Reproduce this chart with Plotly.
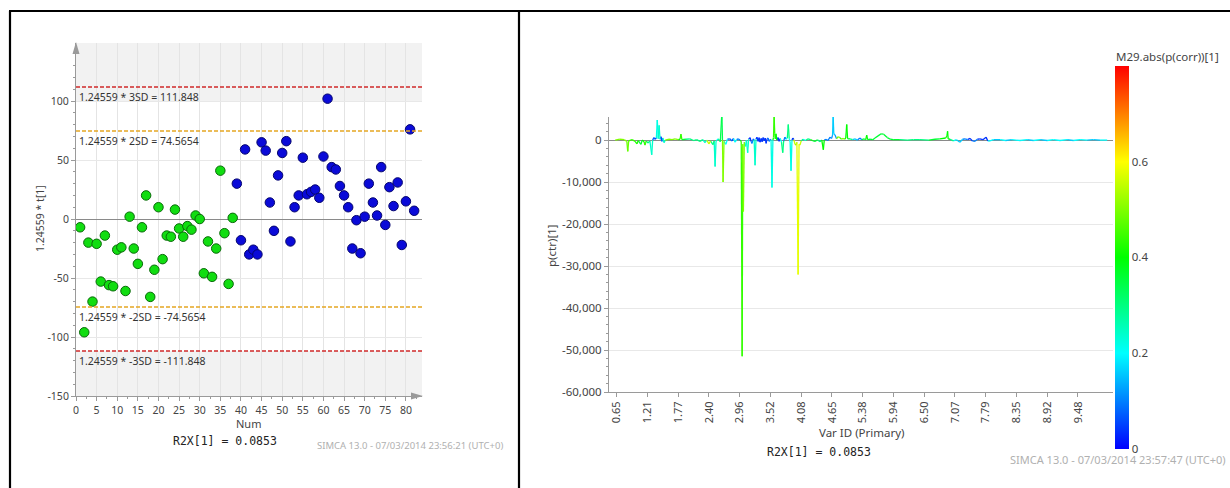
import plotly.graph_objects as go
from plotly.colors import sample_colorscale

W, H = 1230, 488


def px(x):
    return x / W


def py(y):
    return 1 - y / H


# ---------------- Left chart data (score plot) ----------------
obs_num = list(range(1, 83))
t1_values = [-7, -96, -20, -70, -21, -53, -14, -56, -57, -26, -24, -61, 2, -25, -38, -7, 20, -66, -43, 10,
             -34, -14, -15, 8, -8, -15, -6, -9, 3, 0, -46, -19, -49, -25, 41, -12, -55, 1,
             30, -18, 59, -30, -26, -30, 65, 58, 14, -10, 37, 56, 66, -19, 10, 20, 52, 21, 23, 25,
             18, 53, 102, 44, 42, 28, 20, 10, -25, -1, -29, 2, 30, 14, 3, 44, -5, 27, 11, 31,
             -22, 15, 76, 7]
obs_class = ["A"] * 38 + ["B"] * 44
limits = [111.848, 74.5654, -74.5654, -111.848]
limit_labels = ["1.24559 * 3SD = 111.848", "1.24559 * 2SD = 74.5654",
                "1.24559 * -2SD = -74.5654", "1.24559 * -3SD = -111.848"]
left_ytick_vals = [-150, -100, -50, 0, 50, 100]
left_ytick_text = ["-150", "-100", "-50", "0", "50", "100"]

# ---------------- Right chart data (loading line plot) ----------------
var_idx = [20, 35, 50, 58, 61, 64, 75, 85, 91, 95, 104, 108, 114, 117, 121, 127, 133, 139, 142, 146,
           150, 154, 157, 160, 163, 166, 169, 172, 175, 179, 183, 195, 205, 215, 225, 231, 234, 237, 250, 263,
           275, 285, 296, 305, 312, 318, 325, 330, 338, 342, 345, 348, 351, 356, 362, 367, 369, 371, 374, 380,
           385, 393, 400, 405, 410, 415, 420, 426, 430, 433, 435, 437, 440, 444, 447, 451, 454, 459, 462, 465,
           469, 472, 475, 478, 481, 485, 488, 491, 495, 498, 501, 505, 508, 511, 514, 517, 521, 525, 527, 530,
           533, 535, 537, 539, 541, 543, 546, 550, 553, 557, 561, 565, 568, 572, 576, 580, 583, 586, 589, 592,
           595, 598, 601, 605, 608, 611, 615, 618, 621, 625, 631, 640, 647, 655, 662, 670, 678, 686, 692, 697,
           700, 706, 712, 719, 724, 727, 729, 731, 735, 740, 745, 751, 756, 761, 766, 770, 773, 776, 784, 792,
           800, 808, 816, 822, 830, 835, 838, 841, 849, 858, 865, 875, 885, 893, 905, 915, 924, 946, 970, 990,
           1011, 1040, 1060, 1076, 1095, 1099, 1101, 1103, 1109, 1120, 1130, 1141, 1150, 1158, 1166, 1174, 1182, 1190, 1198, 1206,
           1216, 1226, 1232, 1239, 1250, 1272, 1290, 1310, 1337, 1360, 1380, 1402, 1425, 1445, 1467, 1490, 1510, 1532, 1555, 1575,
           1597, 1620]
p_ctr = [0, 200, 100, -300, -2700, -200, 100, -300, -900, -100, -1000, 0, -400, -1200, -200, -700, -200, -3500, 0, 600,
         200, 500, 4800, 300, 3500, 200, 800, -300, 500, -600, 0, 200, 100, 300, 100, 200, 1400, 100, 200, 300,
         -100, 100, -300, 100, -600, 0, -900, -200, -1100, -200, -6300, -300, 0, 300, -400, 6500, 0, -10000, -300, -1000,
         200, 300, -200, 400, -500, 100, 300, 0, -300, -51500, -1000, -17000, -500, -1500, 0, -3000, 200, 600, -300, -800,
         300, 0, -6000, 200, 700, -300, 600, -500, 400, -400, 600, -200, 500, -800, 300, 500, -300, 200, 0, -11300,
         0, 600, 5800, 1500, 300, 1500, 0, 600, -300, 400, -500, -3000, -200, 700, 200, 500, 3700, 300, -400, -7300,
         0, 500, 100, -1000, -1200, -500, -32000, -1000, -1200, -200, 200, -100, 300, 100, -100, -300, 100, -400, 0, -2300,
         0, 200, -100, 700, 400, 1200, 5600, 1500, 1200, 300, 800, 600, 200, 400, 200, 500, 3700, 300, 300, 100,
         300, 0, 500, 100, 300, 100, 1200, 100, 200, 100, 500, 1000, 1500, 1400, 600, 200, 100, 100, 0, 100,
         100, 0, 200, 300, 500, 1000, 2100, 300, 200, -200, 100, -500, 200, 300, 100, 400, -200, -300, 200, 300,
         100, 700, -200, -200, 100, 100, -100, 100, -100, 100, -100, 100, -100, 100, -100, 100, -100, 100, 0, 100,
         0, 0]
p_corr = [0.45, 0.5, 0.45, 0.5, 0.48, 0.45, 0.5, 0.45, 0.42, 0.4, 0.35, 0.3, 0.4, 0.45, 0.35, 0.3, 0.25, 0.25, 0.2, 0.08,
          0.05, 0.05, 0.22, 0.2, 0.25, 0.05, 0.05, 0.05, 0.1, 0.25, 0.3, 0.5, 0.55, 0.5, 0.45, 0.4, 0.45, 0.4, 0.35, 0.3,
          0.3, 0.25, 0.3, 0.3, 0.25, 0.3, 0.55, 0.45, 0.3, 0.25, 0.25, 0.25, 0.3, 0.2, 0.3, 0.34, 0.4, 0.5, 0.4, 0.2,
          0.1, 0.08, 0.1, 0.05, 0.2, 0.1, 0.1, 0.2, 0.4, 0.45, 0.45, 0.5, 0.4, 0.25, 0.2, 0.25, 0.1, 0.05, 0.05, 0.1,
          0.05, 0.2, 0.25, 0.1, 0.03, 0.05, 0.04, 0.05, 0.03, 0.05, 0.03, 0.05, 0.05, 0.03, 0.05, 0.08, 0.1, 0.1, 0.2, 0.22,
          0.3, 0.4, 0.45, 0.42, 0.4, 0.4, 0.2, 0.05, 0.05, 0.05, 0.2, 0.3, 0.2, 0.1, 0.1, 0.2, 0.3, 0.2, 0.2, 0.22,
          0.1, 0.05, 0.05, 0.55, 0.5, 0.55, 0.58, 0.55, 0.55, 0.3, 0.2, 0.35, 0.3, 0.4, 0.35, 0.35, 0.3, 0.3, 0.35, 0.4,
          0.3, 0.1, 0.2, 0.1, 0.08, 0.12, 0.15, 0.15, 0.12, 0.3, 0.5, 0.45, 0.55, 0.5, 0.4, 0.4, 0.4, 0.35, 0.3, 0.25,
          0.15, 0.2, 0.1, 0.3, 0.35, 0.4, 0.4, 0.35, 0.35, 0.35, 0.35, 0.35, 0.35, 0.35, 0.35, 0.35, 0.35, 0.3, 0.3, 0.3,
          0.3, 0.3, 0.35, 0.35, 0.4, 0.42, 0.4, 0.4, 0.3, 0.2, 0.15, 0.15, 0.1, 0.1, 0.05, 0.05, 0.1, 0.1, 0.1, 0.05,
          0.1, 0.05, 0.2, 0.2, 0.15, 0.2, 0.15, 0.2, 0.2, 0.15, 0.2, 0.15, 0.2, 0.2, 0.2, 0.15, 0.2, 0.2, 0.2, 0.15,
          0.2, 0.2]
ppm_tick_idx = [25, 125, 225, 325, 425, 525, 625, 725, 825, 925, 1025, 1125, 1225, 1325, 1425, 1525]
ppm_tick_text = ["0.65", "1.21", "1.77", "2.40", "2.96", "3.52", "4.08", "4.65",
                 "5.38", "5.94", "6.50", "7.07", "7.79", "8.35", "8.92", "9.48"]
right_ytick_vals = [-60000, -50000, -40000, -30000, -20000, -10000, 0]
right_ytick_text = ["-60,000", "-50,000", "-40,000", "-30,000", "-20,000", "-10,000", "0"]
cbar_tick_vals = [0, 0.2, 0.4, 0.6]
cbar_tick_text = ["0", "0.2", "0.4", "0.6"]

jet = [[0, "#0000ff"], [0.25, "#00ffff"], [0.5, "#00ff00"], [0.75, "#ffff00"], [1, "#ff0000"]]
CMAX = 0.8

FONT = "Noto Sans, Open Sans, sans-serif"
MONO = "DejaVu Sans Mono, Liberation Mono, monospace"
TXT = "#444444"
AX = "#9a9a9a"

fig = go.Figure()

# Left scatter
for cls, fill, edge in [("A", "#11dd11", "#0a6a0a"), ("B", "#0a0ad8", "#05056e")]:
    xs = [n for n, c in zip(obs_num, obs_class) if c == cls]
    ys = [v for v, c in zip(t1_values, obs_class) if c == cls]
    fig.add_trace(go.Scatter(x=xs, y=ys, mode="markers", xaxis="x", yaxis="y",
                             marker=dict(size=9.5, color=fill, line=dict(color=edge, width=1)),
                             showlegend=False, hoverinfo="x+y"))

# Right line plot: segments coloured by |p(corr)|
groups = {}
for i in range(len(var_idx) - 1):
    a, b = i, i + 1
    c = p_corr[a] if abs(p_ctr[a]) >= abs(p_ctr[b]) else p_corr[b]
    key = round(c / 0.02) * 0.02
    g = groups.setdefault(key, ([], []))
    g[0].extend([var_idx[a], var_idx[b], None])
    g[1].extend([p_ctr[a], p_ctr[b], None])
for key in sorted(groups):
    col = sample_colorscale(jet, [min(key / CMAX, 1.0)])[0]
    xs, ys = groups[key]
    fig.add_trace(go.Scatter(x=xs, y=ys, mode="lines", xaxis="x2", yaxis="y2",
                             line=dict(color=col, width=1.3), showlegend=False, hoverinfo="skip"))

# Colour bar carrier
fig.add_trace(go.Scatter(
    x=[var_idx[0]], y=[0], mode="markers", xaxis="x2", yaxis="y2", showlegend=False, hoverinfo="skip",
    marker=dict(size=0.1, color=[0.3], colorscale=jet, cmin=0, cmax=CMAX, showscale=True,
                colorbar=dict(x=px(1115), xanchor="left", xref="paper", y=py(257.3), yanchor="middle",
                              thickness=14, thicknessmode="pixels", len=383, lenmode="pixels",
                              outlinewidth=0, xpad=0, ypad=0, ticks="",
                              tickvals=cbar_tick_vals, ticktext=cbar_tick_text,
                              tickfont=dict(family=FONT, size=11.5, color=TXT)))))

shapes = []
# gray shaded zones
shapes.append(dict(type="rect", xref="x", yref="y", x0=0, x1=83.9, y0=100, y1=149.2,
                   fillcolor="#f2f2f2", line=dict(width=0), layer="below"))
shapes.append(dict(type="rect", xref="x", yref="y", x0=0, x1=83.9, y0=-150, y1=-111.848,
                   fillcolor="#f2f2f2", line=dict(width=0), layer="below"))
lim_colors = ["#d02a2a", "#e5a623", "#e5a623", "#d02a2a"]
for v, c in zip(limits, lim_colors):
    shapes.append(dict(type="line", xref="x", yref="y", x0=0, x1=83.9, y0=v, y1=v,
                       line=dict(color=c, width=1.5, dash="4px,2px")))
# axis arrows (left chart)
shapes.append(dict(type="path", xref="paper", yref="paper",
                   path=f"M {px(76)} {py(42)} L {px(72.5)} {py(54)} L {px(79.5)} {py(54)} Z",
                   fillcolor=AX, line=dict(width=0)))
shapes.append(dict(type="path", xref="paper", yref="paper",
                   path=f"M {px(423)} {py(396)} L {px(411)} {py(392.5)} L {px(411)} {py(399.5)} Z",
                   fillcolor=AX, line=dict(width=0)))
# table borders
for (x0, y0, x1, y1) in [(9, 11, 1230, 11), (10, 11, 10, 488), (519, 11, 519, 488)]:
    shapes.append(dict(type="line", xref="paper", yref="paper", x0=px(x0), y0=py(y0), x1=px(x1), y1=py(y1),
                       line=dict(color="black", width=2.2)))

ann = []
for v, t in zip(limits, limit_labels):
    ann.append(dict(x=0.3, y=v, xref="x", yref="y", text=t, showarrow=False, xanchor="left", yanchor="top",
                    yshift=-1, font=dict(family=FONT, size=10.5, color="#333333")))


def add_text(x, y, text, size, color=TXT, family=FONT, xanchor="center", angle=0):
    ann.append(dict(x=px(x), y=py(y), xref="paper", yref="paper", text=text, showarrow=False,
                    xanchor=xanchor, yanchor="middle", textangle=angle,
                    font=dict(family=family, size=size, color=color)))


add_text(40, 219, "1.24559 * t[1]", 10.5, angle=-90)
add_text(248, 423, "Num", 11)
add_text(225, 441, "R2X[1] = 0.0853", 11.5, color="#222222", family=MONO)
add_text(505, 445, "SIMCA 13.0 - 07/03/2014 23:56:21 (UTC+0)", 9.5, color="#b0b0b0", xanchor="right")
add_text(552, 246, "p(ctr)[1]", 11.5, angle=-90)
add_text(862, 432, "Var ID (Primary)", 11.5)
add_text(819, 452, "R2X[1] = 0.0853", 11.5, color="#222222", family=MONO)
add_text(1228, 459, "SIMCA 13.0 - 07/03/2014 23:57:47 (UTC+0)", 11, color="#b0b0b0", xanchor="right")
add_text(1114, 56, "M29.abs(p(corr))[1]", 11.5, xanchor="left")

axis_common = dict(showline=True, linecolor=AX, linewidth=1, ticks="outside", tickcolor=AX,
                   ticklen=4, tickfont=dict(family=FONT, size=10.5, color=TXT), automargin=False)

fig.update_layout(
    width=W, height=H, autosize=False, margin=dict(l=0, r=0, t=0, b=0, pad=0, autoexpand=False),
    paper_bgcolor="white", plot_bgcolor="white", showlegend=False,
    xaxis=dict(domain=[px(76), px(422)], range=[0, 83.9], tick0=0, dtick=5,
               showgrid=True, gridcolor="#e4e4e4", zeroline=False,
               minor=dict(dtick=2.5, ticks="outside", ticklen=2, tickcolor=AX, showgrid=False),
               anchor="y", **axis_common),
    yaxis=dict(domain=[py(396), py(43)], range=[-150, 149.2], tickvals=left_ytick_vals,
               ticktext=left_ytick_text, showgrid=True, gridcolor="#e8e8e8",
               zeroline=True, zerolinecolor="#8a8a8a", zerolinewidth=1,
               minor=dict(tickvals=list(range(-140, 150, 10)), ticks="outside", ticklen=2, tickcolor=AX, showgrid=False),
               anchor="x", **axis_common),
    xaxis2=dict(domain=[px(609), px(1113)], range=[0, 1639], tickvals=ppm_tick_idx, ticktext=ppm_tick_text,
                tickangle=-90, showgrid=False, zeroline=False, anchor="y2",
                **{**axis_common, "tickfont": dict(family=FONT, size=11, color=TXT)}),
    yaxis2=dict(domain=[py(392), py(117)], range=[-60000, 5500], tickvals=right_ytick_vals,
                ticktext=right_ytick_text, showgrid=True, gridcolor="#e8e8e8",
                zeroline=True, zerolinecolor="#8a8a8a", zerolinewidth=1,
                minor=dict(tickvals=list(range(-58000, 5000, 2000)), ticks="outside", ticklen=2, tickcolor=AX, showgrid=False),
                anchor="x2", **{**axis_common, "tickfont": dict(family=FONT, size=11.5, color=TXT)}),
    shapes=shapes, annotations=ann,
)

fig.write_html("out.html", config={"displayModeBar": False},
               post_script="document.body.style.margin='0';document.body.style.overflow='hidden';")
